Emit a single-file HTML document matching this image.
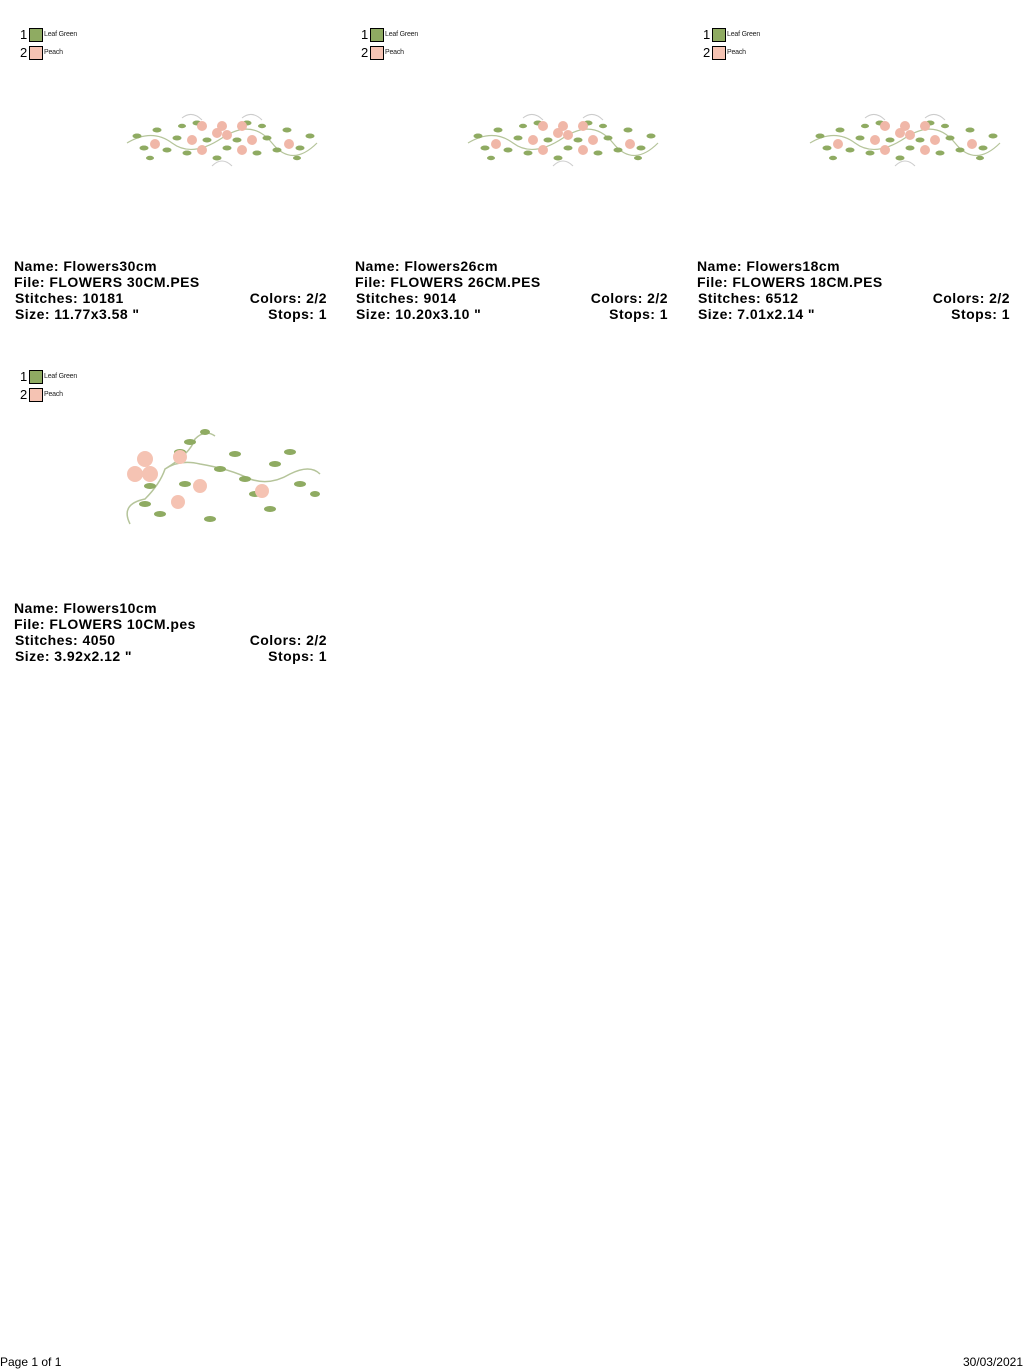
<!DOCTYPE html>
<html><head><style>
body{margin:0;width:1024px;height:1370px;background:#fff;position:relative;font-family:"Liberation Sans",Arial,sans-serif;overflow:hidden}
.blk{position:absolute;width:316px}
.lg{position:absolute;left:20px;font-size:13px;color:#000}
.lg .n{position:absolute;left:0;top:0;width:9px}
.lg .sw{position:absolute;left:9px;top:1px;width:12px;height:12px;border:1px solid #000}
.lg .t{position:absolute;left:24px;top:4px;font-size:7px;white-space:nowrap;color:#222;letter-spacing:-0.2px}
.info{position:absolute;left:14px;top:258px;width:313px;font-weight:bold;font-size:14px;line-height:16px;color:#000;letter-spacing:0.45px}
.info .r{position:relative;padding-left:1px}
.info .r span{position:absolute;right:0}
svg{position:absolute}
.ft{position:absolute;top:1355px;font-size:12px}
</style></head><body>
<svg width="0" height="0" style="position:absolute">
<defs>
<g id="gar">
<path d="M5 35 Q30 20 50 35 T100 30 T150 35 T195 35" fill="none" stroke="#b5c49a" stroke-width="1.2"/>
<path d="M60 10 Q70 2 80 12 M140 12 Q130 2 120 10 M90 58 Q100 48 110 58" fill="none" stroke="#ccc" stroke-width="1"/>
<g fill="#8fab62">
<ellipse cx="15" cy="28" rx="4.5" ry="2.5"/><ellipse cx="22" cy="40" rx="4.5" ry="2.5"/><ellipse cx="35" cy="22" rx="4.5" ry="2.5"/>
<ellipse cx="45" cy="42" rx="4.5" ry="2.5"/><ellipse cx="55" cy="30" rx="4.5" ry="2.5"/><ellipse cx="65" cy="45" rx="4.5" ry="2.5"/>
<ellipse cx="75" cy="15" rx="4.5" ry="2.5"/><ellipse cx="85" cy="32" rx="4.5" ry="2.5"/><ellipse cx="95" cy="50" rx="4.5" ry="2.5"/>
<ellipse cx="105" cy="40" rx="4.5" ry="2.5"/><ellipse cx="115" cy="32" rx="4.5" ry="2.5"/><ellipse cx="125" cy="15" rx="4.5" ry="2.5"/>
<ellipse cx="135" cy="45" rx="4.5" ry="2.5"/><ellipse cx="145" cy="30" rx="4.5" ry="2.5"/><ellipse cx="155" cy="42" rx="4.5" ry="2.5"/>
<ellipse cx="165" cy="22" rx="4.5" ry="2.5"/><ellipse cx="178" cy="40" rx="4.5" ry="2.5"/><ellipse cx="188" cy="28" rx="4.5" ry="2.5"/>
<ellipse cx="28" cy="50" rx="4" ry="2.2"/><ellipse cx="175" cy="50" rx="4" ry="2.2"/><ellipse cx="60" cy="18" rx="4" ry="2.2"/><ellipse cx="140" cy="18" rx="4" ry="2.2"/>
</g>
<g fill="#f0b7a8">
<circle cx="33" cy="36" r="5"/><circle cx="70" cy="32" r="5"/><circle cx="80" cy="18" r="5"/><circle cx="95" cy="25" r="5"/>
<circle cx="100" cy="18" r="5"/><circle cx="105" cy="27" r="5"/><circle cx="120" cy="18" r="5"/><circle cx="80" cy="42" r="5"/>
<circle cx="120" cy="42" r="5"/><circle cx="130" cy="32" r="5"/><circle cx="167" cy="36" r="5"/>
</g>
</g>
</defs></svg>

<div class="blk" style="left:0;top:0">
<div class="lg" style="top:27px"><span class="n">1</span><span class="sw" style="background:#8fab62"></span><span class="t">Leaf Green</span></div>
<div class="lg" style="top:45px"><span class="n">2</span><span class="sw" style="background:#f5c3b3"></span><span class="t">Peach</span></div>
<svg style="left:122px;top:108px" width="200" height="62" viewBox="0 0 200 62"><use href="#gar"/></svg>
<div class="info">Name: Flowers30cm<br>File: FLOWERS 30CM.PES<div class="r">Stitches: 10181<span>Colors: 2/2</span></div><div class="r">Size: 11.77x3.58 "<span>Stops: 1</span></div></div>
</div>

<div class="blk" style="left:341px;top:0">
<div class="lg" style="top:27px"><span class="n">1</span><span class="sw" style="background:#8fab62"></span><span class="t">Leaf Green</span></div>
<div class="lg" style="top:45px"><span class="n">2</span><span class="sw" style="background:#f5c3b3"></span><span class="t">Peach</span></div>
<svg style="left:122px;top:108px" width="200" height="62" viewBox="0 0 200 62"><use href="#gar"/></svg>
<div class="info">Name: Flowers26cm<br>File: FLOWERS 26CM.PES<div class="r">Stitches: 9014<span>Colors: 2/2</span></div><div class="r">Size: 10.20x3.10 "<span>Stops: 1</span></div></div>
</div>

<div class="blk" style="left:683px;top:0">
<div class="lg" style="top:27px"><span class="n">1</span><span class="sw" style="background:#8fab62"></span><span class="t">Leaf Green</span></div>
<div class="lg" style="top:45px"><span class="n">2</span><span class="sw" style="background:#f5c3b3"></span><span class="t">Peach</span></div>
<svg style="left:122px;top:108px" width="200" height="62" viewBox="0 0 200 62"><use href="#gar"/></svg>
<div class="info">Name: Flowers18cm<br>File: FLOWERS 18CM.PES<div class="r">Stitches: 6512<span>Colors: 2/2</span></div><div class="r">Size: 7.01x2.14 "<span>Stops: 1</span></div></div>
</div>

<div class="blk" style="left:0;top:342px">
<div class="lg" style="top:27px"><span class="n">1</span><span class="sw" style="background:#8fab62"></span><span class="t">Leaf Green</span></div>
<div class="lg" style="top:45px"><span class="n">2</span><span class="sw" style="background:#f5c3b3"></span><span class="t">Peach</span></div>
<svg style="left:120px;top:82px" width="205" height="112" viewBox="0 0 205 112">
<path d="M10 100 Q0 80 25 75 Q40 60 45 45 Q60 35 80 40 Q110 45 130 55 Q150 62 170 50 Q190 40 200 50 M45 45 Q70 30 75 15 Q85 5 95 12" fill="none" stroke="#b5c49a" stroke-width="1.5"/>
<g fill="#8fab62">
<ellipse cx="25" cy="80" rx="6" ry="3"/><ellipse cx="40" cy="90" rx="6" ry="3"/><ellipse cx="30" cy="62" rx="6" ry="3"/>
<ellipse cx="60" cy="28" rx="6" ry="3"/><ellipse cx="70" cy="18" rx="6" ry="3"/><ellipse cx="85" cy="8" rx="5" ry="3"/>
<ellipse cx="100" cy="45" rx="6" ry="3"/><ellipse cx="115" cy="30" rx="6" ry="3"/><ellipse cx="125" cy="55" rx="6" ry="3"/>
<ellipse cx="135" cy="70" rx="6" ry="3"/><ellipse cx="155" cy="40" rx="6" ry="3"/><ellipse cx="170" cy="28" rx="6" ry="3"/>
<ellipse cx="180" cy="60" rx="6" ry="3"/><ellipse cx="195" cy="70" rx="5" ry="3"/><ellipse cx="90" cy="95" rx="6" ry="3"/>
<ellipse cx="65" cy="60" rx="6" ry="3"/><ellipse cx="150" cy="85" rx="6" ry="3"/>
</g>
<g fill="#f5c3b3">
<circle cx="25" cy="35" r="8"/><circle cx="15" cy="50" r="8"/><circle cx="30" cy="50" r="8"/><circle cx="60" cy="33" r="7"/>
<circle cx="80" cy="62" r="7"/><circle cx="58" cy="78" r="7"/><circle cx="142" cy="67" r="7"/>
</g>
</svg>
<div class="info">Name: Flowers10cm<br>File: FLOWERS 10CM.pes<div class="r">Stitches: 4050<span>Colors: 2/2</span></div><div class="r">Size: 3.92x2.12 "<span>Stops: 1</span></div></div>
</div>

<div class="ft" style="left:0">Page 1 of 1</div>
<div class="ft" style="right:1px">30/03/2021</div>
</body></html>
